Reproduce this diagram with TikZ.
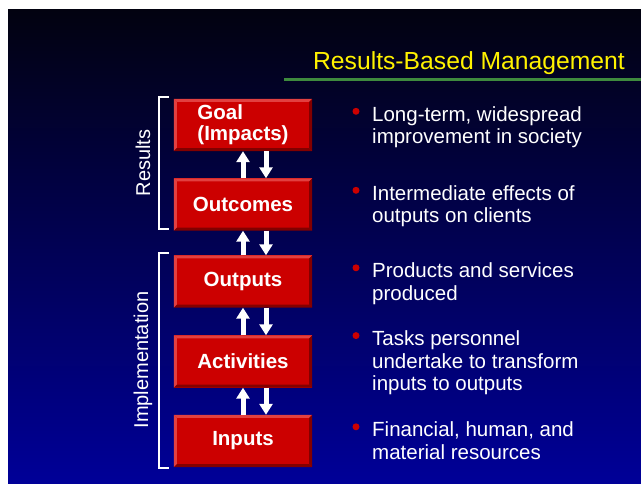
\documentclass[tikz,border=0pt]{standalone}
\usepackage{fontspec}
\setmainfont{Liberation Sans}
\usetikzlibrary{arrows.meta}

\definecolor{bgtop}{RGB}{2,2,16}
\definecolor{bgbot}{RGB}{0,0,152}
\definecolor{boxred}{RGB}{204,0,0}
\definecolor{boxlight}{RGB}{226,64,64}
\definecolor{boxdark}{RGB}{130,0,0}
\definecolor{titlegreen}{RGB}{62,138,62}

\tikzset{
  stage/.style={fill=boxred, minimum width=138pt, minimum height=52pt, inner sep=0pt,
    text=white, font=\fontsize{20.5}{21}\selectfont\bfseries, align=left},
  flow/.style={white, line width=5pt, -{Triangle[length=11pt,width=13pt]}},
  bracket/.style={white, line width=2pt},
  side/.style={white, rotate=90, font=\fontsize{20}{22}\selectfont},
  item/.style={white, anchor=base west, inner sep=0pt, align=left,
    font=\fontsize{20.5}{22.7}\selectfont}
}

\begin{document}
\begin{tikzpicture}[x=1pt,y=-1pt]

\useasboundingbox[fill=white] (0,0) rectangle (641,484);
\shade[top color=bgtop, bottom color=bgbot] (8,10) rectangle (641,484);

% title
\node[yellow, anchor=base east, inner sep=0pt, font=\fontsize{24.7}{26}\selectfont] (title) at (625,69.3) {Results-Based Management};
\draw[titlegreen, line width=2.5pt] (284,79.3) -- (641,79.3);

% stages
\node[stage] (goal) at (243,125) {Goal\\(Impacts)};
\node[stage] (outcomes) at (243,204.5) {Outcomes};
\node[stage] (outputs) at (243,281.5) {Outputs};
\node[stage] (activities) at (243,361.5) {Activities};
\node[stage] (inputs) at (243,441) {Inputs};

\foreach \n in {goal,outcomes,outputs,activities,inputs}{
  \fill[boxlight] (\n.north west) -- (\n.north east) -- ([shift={(-3,3)}]\n.north east) -- ([shift={(3,3)}]\n.north west) -- cycle;
  \fill[boxlight] (\n.north west) -- ([shift={(3,3)}]\n.north west) -- ([shift={(3,-3)}]\n.south west) -- (\n.south west) -- cycle;
  \fill[boxdark] (\n.north east) -- ([shift={(-3,3)}]\n.north east) -- ([shift={(-3,-3)}]\n.south east) -- (\n.south east) -- cycle;
  \fill[boxdark] (\n.south west) -- ([shift={(3,-3)}]\n.south west) -- ([shift={(-3,-3)}]\n.south east) -- (\n.south east) -- cycle;
}

% arrows up and down
\coordinate (up) at (243,0);
\coordinate (dn) at (266,0);
\foreach \a/\b in {goal/outcomes,outcomes/outputs,outputs/activities,activities/inputs}{
  \draw[flow] (\b.north -| up) -- (\a.south -| up);
  \draw[flow] (\a.south -| dn) -- (\b.north -| dn);
}

% brackets
\draw[bracket] (169,97) -- (159,97) -- (159,229) -- (169,229);
\draw[bracket] (169,253) -- (159,253) -- (159,468) -- (169,468);
\node[side] (results) at (143,163) {Results};
\node[side] (impl) at (143,360) {Implementation};

% bullets (base = last line)
\node[item] (b1) at (372,144) {Long-term, widespread\\improvement in society};
\node[item] (b2) at (372,223) {Intermediate effects of\\outputs on clients};
\node[item] (b3) at (372,300.5) {Products and services\\produced};
\node[item] (b4) at (372,391) {Tasks personnel\\undertake to transform\\inputs to outputs};
\node[item] (b5) at (372,459.5) {Financial, human, and\\material resources};
\foreach \n/\k in {b1/1,b2/1,b3/1,b4/2,b5/1}
  \fill[boxred] (\n.base west) ++(-16,{-10-22.7*\k}) circle (3.5);

\end{tikzpicture}
\end{document}
